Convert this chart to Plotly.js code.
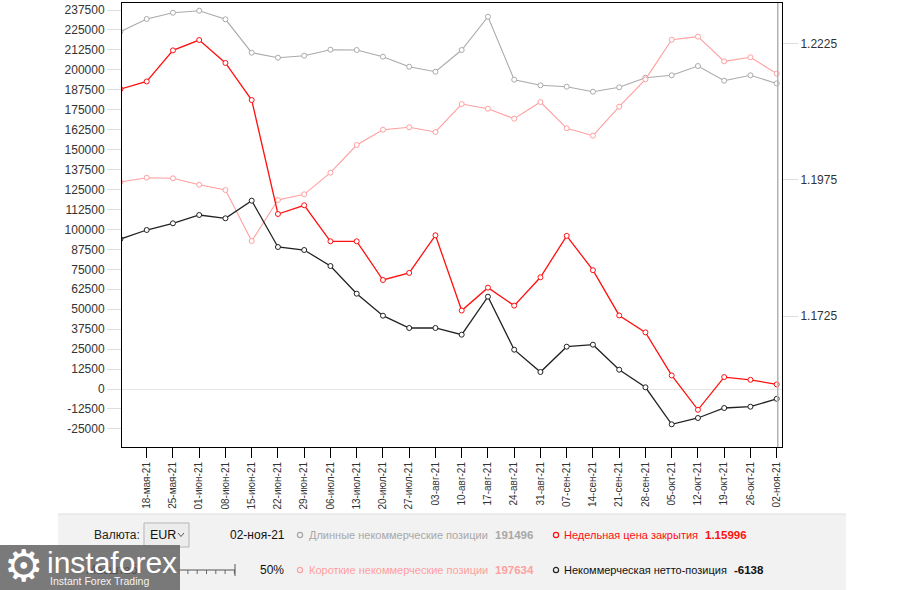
<!DOCTYPE html>
<html>
<head>
<meta charset="utf-8">
<script src="https://cdn.plot.ly/plotly-3.0.1.min.js"></script>
<style>
html,body{margin:0;padding:0;background:#fff;}
#chart{width:901px;height:590px;}
</style>
</head>
<body>
<div id="chart"></div>
<script>
const dates = ["11-мая-21","18-мая-21","25-мая-21","01-июн-21","08-июн-21","15-июн-21","22-июн-21","29-июн-21","06-июл-21","13-июл-21","20-июл-21","27-июл-21","03-авг-21","10-авг-21","17-авг-21","24-авг-21","31-авг-21","07-сен-21","14-сен-21","21-сен-21","28-сен-21","05-окт-21","12-окт-21","19-окт-21","26-окт-21","02-ноя-21"];
const longPos = [223960, 231860, 235800, 237070, 231670, 210750, 207620, 208870, 212630, 212430, 208250, 201970, 198840, 212430, 233300, 193830, 190310, 189440, 186310, 189060, 195080, 196590, 202410, 193200, 196590, 191496];
const shortPos = [129720, 132410, 132030, 128020, 124700, 92740, 118440, 122010, 135540, 152900, 162490, 163990, 161050, 178600, 175650, 169380, 179850, 163370, 158730, 176900, 194070, 218890, 220770, 205350, 207860, 197634];
const netPos = [94000, 99640, 103840, 109040, 106970, 118000, 88980, 87100, 77080, 59720, 45940, 38230, 38230, 34030, 57840, 24630, 10650, 26510, 27760, 12100, 1070, -22120, -18170, -11910, -11090, -6138];
const closePrice = [1.2141, 1.2155, 1.2212, 1.2231, 1.2189, 1.2121, 1.1912, 1.1928, 1.1862, 1.1862, 1.1791, 1.1804, 1.1873, 1.1735, 1.1777, 1.1744, 1.1796, 1.1872, 1.1809, 1.1726, 1.1695, 1.1616, 1.1553, 1.1613, 1.1608, 1.15996];
const leftTicks = [-25000, -12500, 0, 12500, 25000, 37500, 50000, 62500, 75000, 87500, 100000, 112500, 125000, 137500, 150000, 162500, 175000, 187500, 200000, 212500, 225000, 237500];
const rightTicks = [1.1725, 1.1975, 1.2225];
const legendNames = ["Длинные некоммерческие позиции", "Короткие некоммерческие позиции", "Недельная цена закрытия", "Некоммерческая нетто-позиция"];
const legendValues = ["191496", "197634", "1.15996", "-6138"];
const currentDate = "02-ноя-21";

const ML = 122, MR = 119, MT = 3, MB = 143, W = 901, H = 590;
const PW = W - ML - MR, PH = H - MT - MB;
const fx = p => (p - ML) / PW;
const fy = p => (H - MB - p) / PH;

function series(y, color, width, axis) {
  return {
    x: dates, y: y, type: 'scatter', mode: 'lines+markers', yaxis: axis,
    line: {color: color, width: width},
    marker: {symbol: 'circle', size: 5, color: '#ffffff', line: {color: color, width: 1}},
    hoverinfo: 'skip', showlegend: false, cliponaxis: true
  };
}

const traces = [
  series(longPos, '#aaaaaa', 1.1, 'y'),
  series(shortPos, '#ff9f9f', 1.1, 'y'),
  series(netPos, '#222222', 1.3, 'y'),
  series(closePrice, '#ff1010', 1.3, 'y2')
];

const shapes = [];
const annotations = [];
function rect(x0, y0, x1, y1, fill, line, lw) {
  shapes.push({type: 'rect', xref: 'paper', yref: 'paper', layer: 'above',
    x0: fx(x0), x1: fx(x1), y0: fy(y0), y1: fy(y1), fillcolor: fill,
    line: {color: line || 'rgba(0,0,0,0)', width: lw || 0}});
}
function lineS(x0, y0, x1, y1, color, w) {
  shapes.push({type: 'line', xref: 'paper', yref: 'paper', layer: 'above',
    x0: fx(x0), x1: fx(x1), y0: fy(y0), y1: fy(y1), line: {color: color, width: w}});
}
function circ(cx, cy, r, color) {
  shapes.push({type: 'circle', xref: 'paper', yref: 'paper', layer: 'above',
    x0: fx(cx - r), x1: fx(cx + r), y0: fy(cy + r), y1: fy(cy - r),
    fillcolor: 'rgba(0,0,0,0)', line: {color: color, width: 1.2}});
}
function txt(x, y, s, color, size, bold, anchor, family) {
  annotations.push({xref: 'paper', yref: 'paper', x: fx(x), y: fy(y), text: bold ? '<b>' + s + '</b>' : s,
    showarrow: false, xanchor: anchor || 'left', yanchor: 'middle', borderpad: 0,
    font: {family: family || 'Arial, Liberation Sans, sans-serif', size: size, color: color}});
}

// right axis line (gray)
shapes.push({type: 'line', xref: 'x', yref: 'paper', x0: 25.04, x1: 25.04, y0: 0, y1: 1,
  line: {color: '#b3b3b3', width: 1.5}, layer: 'above'});

// bottom panel
rect(58, 514, 846, 591, '#f2f2f2');
lineS(58, 514, 846, 514, '#dedede', 1);

// row 1
txt(93, 535, 'Валюта:', '#222', 12);
rect(144, 523, 189, 547, '#ececec', '#b5b5b5', 1);
txt(149, 535, 'EUR', '#111', 12.5);
shapes.push({type: 'path', xref: 'paper', yref: 'paper', layer: 'above',
  path: 'M ' + fx(178) + ',' + fy(533) + ' L ' + fx(181) + ',' + fy(536.5) + ' L ' + fx(184) + ',' + fy(533),
  line: {color: '#555', width: 1}});
txt(229, 535, currentDate, '#111', 12);
circ(300, 535, 2.6, '#a8a8a8');
txt(308, 535, legendNames[0], '#a8a8a8', 11);
txt(494, 535, legendValues[0], '#a8a8a8', 11.5, true);
circ(556, 535, 2.6, '#ff1010');
txt(563, 535, legendNames[2], '#ff1010', 11);
txt(704, 535, legendValues[2], '#ff1010', 11.5, true);

// row 2
txt(85, 570, 'Масштаб', 'rgba(40,40,40,0.55)', 12);
lineS(152, 570, 235, 570, '#555', 1);
for (let i = 0; i < 9; i++) {
  const xx = 160 + i * 9.3;
  lineS(xx, 570, xx, 574, '#666', 1);
}
lineS(235, 564, 235, 576, '#555', 1);
txt(259, 570, '50%', '#111', 12);
circ(300, 570, 2.6, '#ff9f9f');
txt(308, 570, legendNames[1], '#ff9f9f', 11);
txt(494, 570, legendValues[1], '#ff9f9f', 11.5, true);
circ(556, 570, 2.6, '#222');
txt(563, 570, legendNames[3], '#111', 11);
txt(733, 570, legendValues[3], '#111', 11.5, true);

// logo
rect(0, 545, 180, 591, 'rgba(112,112,112,0.93)');
txt(24, 565, '⚙', '#ffffff', 44, false, 'center', 'DejaVu Sans');
txt(46, 562, 'instaforex', '#ffffff', 30, false, 'left', 'Arial, Liberation Sans, sans-serif');
txt(49, 581, 'Instant Forex Trading', '#f4f4f4', 10.5, false, 'left', 'Arial, Liberation Sans, sans-serif');

const layout = {
  width: W, height: H,
  margin: {l: ML, r: MR, t: MT, b: MB, pad: 0},
  paper_bgcolor: '#ffffff', plot_bgcolor: '#ffffff',
  showlegend: false,
  font: {family: 'Arial, Liberation Sans, sans-serif', color: '#333'},
  xaxis: {
    type: 'category', range: [0.059, 25.202],
    showline: true, mirror: true, linecolor: '#000', linewidth: 1,
    ticks: 'outside', ticklen: 10, tickcolor: '#000', tickwidth: 1,
    tickangle: -90, tickfont: {size: 10, color: '#333'},
    showgrid: false, zeroline: false, fixedrange: true
  },
  yaxis: {
    range: [-36346, 241890],
    tickvals: leftTicks, ticktext: leftTicks.map(v => String(v)),
    showline: true, mirror: true, linecolor: '#000', linewidth: 1,
    ticks: 'outside', ticklen: 14, tickcolor: '#dddddd', tickwidth: 1,
    tickfont: {size: 12, color: '#333'},
    showgrid: false, zeroline: true, zerolinecolor: '#e6e6e6', zerolinewidth: 1,
    fixedrange: true
  },
  yaxis2: {
    overlaying: 'y', side: 'right', range: [1.14848, 1.22989],
    tickvals: rightTicks, ticktext: rightTicks.map(v => v.toFixed(4)),
    ticks: 'outside', ticklen: 15, tickcolor: '#dddddd', tickwidth: 1,
    tickfont: {size: 12, color: '#333'},
    showline: false, showgrid: false, zeroline: false, fixedrange: true
  },
  shapes: shapes,
  annotations: annotations
};

Plotly.newPlot('chart', traces, layout, {staticPlot: true, displayModeBar: false});
</script>
</body>
</html>
